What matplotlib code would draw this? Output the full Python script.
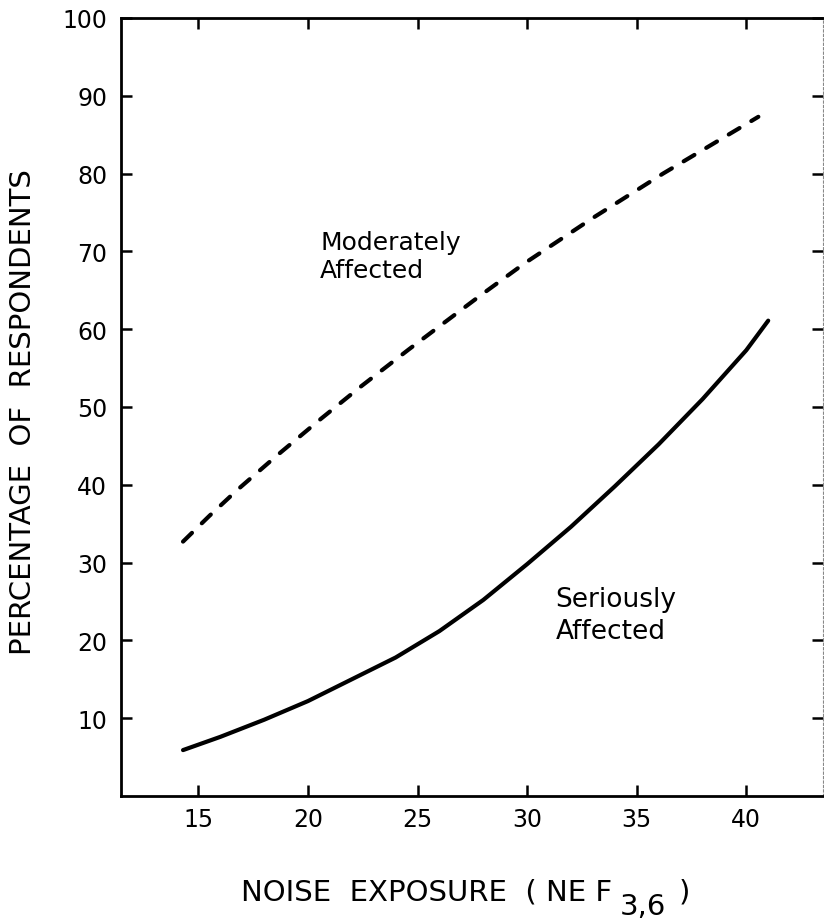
import numpy as np
import matplotlib
matplotlib.use("Agg")
import matplotlib.pyplot as plt

# Valeurs
nef_moderate = [14.3, 15.5, 16.8, 18.6, 20.6, 22.4, 24.6, 26.2, 27.9, 29.9, 33.0, 36.2, 39.6, 40.55]
pct_moderate = [32.7, 36.0, 39.4, 43.8, 48.5, 52.6, 57.4, 60.8, 64.4, 68.5, 74.3, 80.0, 85.7, 87.3]

nef_serious = [14.3, 16.0, 18.0, 20.0, 22.0, 24.0, 26.0, 28.0, 30.0, 32.0, 34.0, 36.0, 38.0, 40.0, 41.0]
pct_serious = [5.9, 7.6, 9.8, 12.2, 15.0, 17.8, 21.2, 25.2, 29.8, 34.6, 39.8, 45.2, 51.0, 57.3, 61.1]

x_ticks = [15, 20, 25, 30, 35, 40]
y_ticks = [10, 20, 30, 40, 50, 60, 70, 80, 90, 100]

plt.rcParams['font.family'] = ['DejaVu Sans']

W, H = 824, 920
fig = plt.figure(figsize=(W / 100, H / 100), dpi=100)
ax = fig.add_axes([121 / W, 1 - 797 / H, 702 / W, 778 / H])

ax.plot(nef_moderate, pct_moderate, color='black', linewidth=3.0,
        dashes=(3.0, 3.3), dash_capstyle='round', solid_joinstyle='round')
ax.plot(nef_serious, pct_serious, color='black', linewidth=3.0,
        solid_capstyle='round', solid_joinstyle='round')

ax.set_xlim(11.47, 43.5)
ax.set_ylim(0, 100)
ax.set_xticks(x_ticks)
ax.set_yticks(y_ticks)
ax.tick_params(direction='in', length=8, width=1.8, labelsize=17,
               top=True, right=True, labelright=False, labeltop=False, pad=8)
ax.tick_params(axis='y', pad=10)

for side in ['left', 'bottom', 'top']:
    ax.spines[side].set_linewidth(2.0)
ax.spines['right'].set_linewidth(0.8)
ax.spines['right'].set_linestyle((0, (2, 2)))
ax.spines['right'].set_color('#888888')

ax.text(20.55, 69.4, "Moderately\nAffected", fontsize=18, ha='left', va='center',
        linespacing=1.25)
ax.text(31.3, 23.3, "Seriously\nAffected", fontsize=19, ha='left', va='center',
        linespacing=1.3)

# titres des axes places a la main
fig.text(23 / W, 1 - 412 / H, "PERCENTAGE  OF  RESPONDENTS", fontsize=21,
         rotation=90, ha='center', va='center')
fig.text(612 / W, 1 - 901 / H, "NOISE  EXPOSURE  ( NE F", fontsize=21,
         ha='right', va='baseline')
fig.text(620 / W, 1 - 915 / H, "3,6", fontsize=21, ha='left', va='baseline')
fig.text(690 / W, 1 - 901 / H, ")", fontsize=21, ha='right', va='baseline')

fig.savefig("out.png", dpi=100)
